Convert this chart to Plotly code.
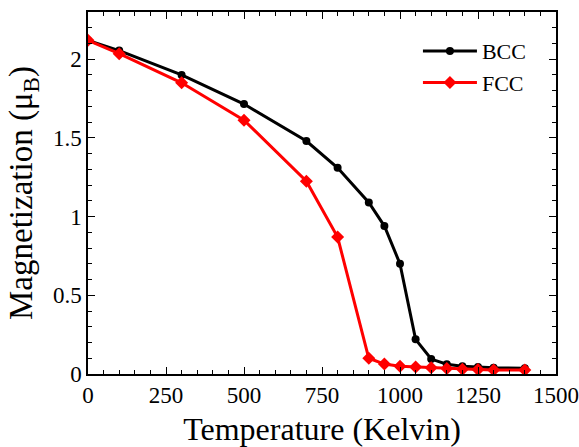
import plotly.graph_objects as go

# Temperature grid (K) and magnetization (Bohr magnetons) for each phase
temperature = [0, 100, 300, 500, 700, 800, 900, 950, 1000, 1050, 1100, 1150, 1200, 1250, 1300, 1400]
bcc_mag = [2.12, 2.055, 1.90, 1.715, 1.48, 1.31, 1.09, 0.94, 0.70, 0.22, 0.095, 0.062, 0.05, 0.045, 0.04, 0.036]
fcc_mag = [2.12, 2.035, 1.85, 1.613, 1.225, 0.87, 0.10, 0.063, 0.05, 0.045, 0.04, 0.035, 0.03, 0.028, 0.025, 0.025]

x_ticks = [0, 250, 500, 750, 1000, 1250, 1500]
y_ticks = [0, 0.5, 1, 1.5, 2]
y_tick_labels = ["0", "0.5", "1", "1.5", "2"]

FONT = "Liberation Serif, Times New Roman, serif"

fig = go.Figure()
fig.add_trace(go.Scatter(
    x=temperature, y=bcc_mag, name="BCC", mode="lines+markers",
    line=dict(color="black", width=3),
    marker=dict(symbol="circle", size=8, color="black"),
))
fig.add_trace(go.Scatter(
    x=temperature, y=fcc_mag, name="FCC", mode="lines+markers",
    line=dict(color="#ff0000", width=3),
    marker=dict(symbol="diamond", size=10, color="#ff0000"),
))

axis_common = dict(
    showgrid=False, zeroline=False, showline=True, linecolor="black", linewidth=1.5,
    mirror="ticks", ticks="inside", ticklen=7, tickwidth=1.2, tickcolor="black",
    tickfont=dict(family=FONT, size=23, color="black"), automargin=False,
)

fig.update_layout(
    width=579, height=447,
    margin=dict(l=88, r=23, t=12, b=73),
    paper_bgcolor="white", plot_bgcolor="white",
    font=dict(family=FONT, color="black"),
    showlegend=True,
    legend=dict(
        x=0.705, y=0.95, xanchor="left", yanchor="top",
        bgcolor="rgba(0,0,0,0)", borderwidth=0,
        font=dict(family=FONT, size=22, color="black"),
        itemwidth=54, tracegroupgap=0,
    ),
    xaxis=dict(
        **axis_common, range=[0, 1500], tickvals=x_ticks,
        minor=dict(dtick=50, ticks="inside", ticklen=4, tickcolor="black", tickwidth=1),
        title=dict(text="Temperature (Kelvin)", font=dict(family=FONT, size=32), standoff=14),
    ),
    yaxis=dict(
        **axis_common, range=[0, 2.3], tickvals=y_ticks, ticktext=y_tick_labels,
        minor=dict(dtick=0.1, ticks="inside", ticklen=4, tickcolor="black", tickwidth=1),
        title=dict(text="Magnetization (μ<sub>B</sub>)", font=dict(family=FONT, size=33), standoff=10),
    ),
)

fig.write_html("out.html")
